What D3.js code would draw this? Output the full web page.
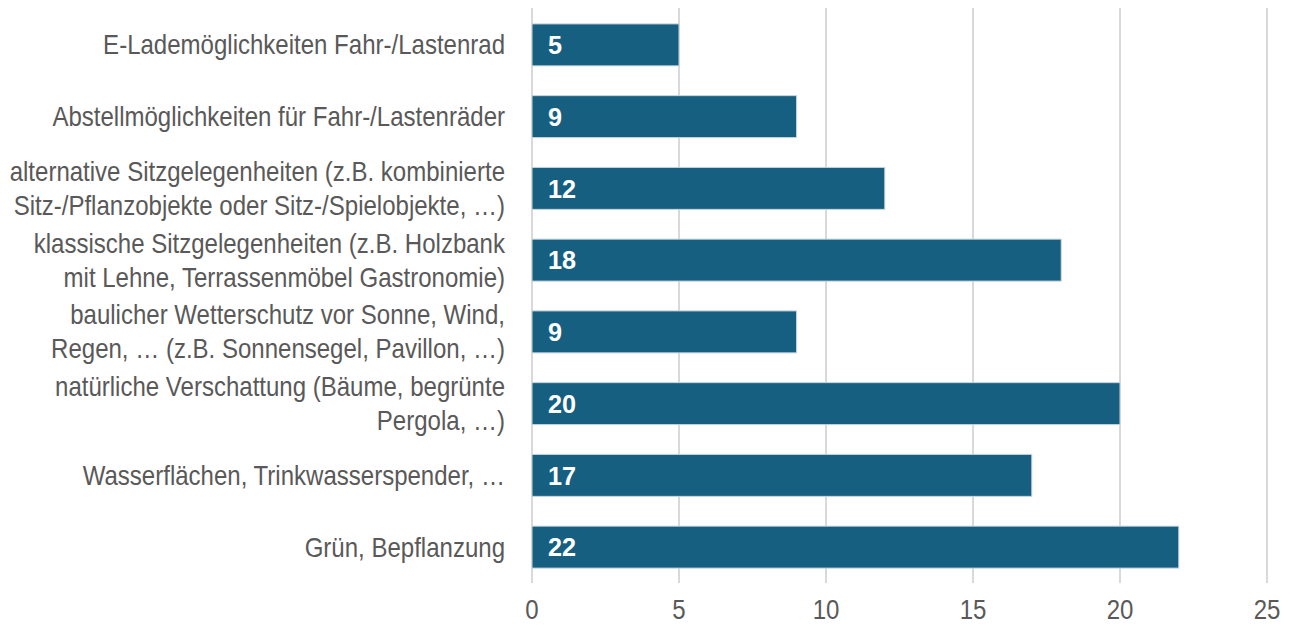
<!DOCTYPE html>
<html>
<head>
<meta charset="utf-8">
<script src="https://cdn.jsdelivr.net/npm/d3@7"></script>
<style>
  body { margin: 0; background: #fff; }
  text { font-family: "Liberation Sans", Arial, sans-serif; }
</style>
</head>
<body>
<svg id="chart" width="1295" height="628"></svg>
<script>
// categories, each one an array of label lines
var categories = [
  ["E-Lademöglichkeiten Fahr-/Lastenrad"],
  ["Abstellmöglichkeiten für Fahr-/Lastenräder"],
  ["alternative Sitzgelegenheiten (z.B. kombinierte", "Sitz-/Pflanzobjekte oder Sitz-/Spielobjekte, …)"],
  ["klassische Sitzgelegenheiten (z.B. Holzbank", "mit Lehne, Terrassenmöbel Gastronomie)"],
  ["baulicher Wetterschutz vor Sonne, Wind,", "Regen, … (z.B. Sonnensegel, Pavillon, …)"],
  ["natürliche Verschattung (Bäume, begrünte", "Pergola, …)"],
  ["Wasserflächen, Trinkwasserspender, …"],
  ["Grün, Bepflanzung"]
];
var values = [5, 9, 12, 18, 9, 20, 17, 22];
var xTicks = [0, 5, 10, 15, 20, 25];

var svg = d3.select("#chart");

// the reference text is a bit narrow, squeeze it horizontally
var squeeze = 0.89;

var x = d3.scaleLinear().domain([0, 25]).range([532, 1267]);
var y = d3.scaleBand()
  .domain(d3.range(categories.length))
  .range([9, 583])
  .paddingInner(0.415)
  .paddingOuter(0.2075);

// grid lines
svg.append("g")
  .selectAll("line")
  .data(xTicks)
  .enter()
  .append("line")
  .attr("x1", function(d){ return x(d); })
  .attr("x2", function(d){ return x(d); })
  .attr("y1", 8)
  .attr("y2", 583)
  .attr("stroke", "#d9d9d9")
  .attr("stroke-width", 2);

// bars
svg.append("g")
  .selectAll("rect")
  .data(values)
  .enter()
  .append("rect")
  .attr("x", x(0))
  .attr("y", function(d, i){ return y(i); })
  .attr("width", function(d){ return x(d) - x(0); })
  .attr("height", y.bandwidth())
  .attr("fill", "#175f80")
  .attr("stroke", "#c9d6de")
  .attr("stroke-width", 1);

// value labels
svg.append("g")
  .selectAll("text")
  .data(values)
  .enter()
  .append("text")
  .attr("transform", function(d, i){
    return "translate(" + (x(0) + 16) + "," + (y(i) + y.bandwidth() / 2) + ") scale(0.97,1)";
  })
  .attr("dy", "0.36em")
  .attr("fill", "#fff")
  .attr("font-size", 26)
  .attr("font-weight", "bold")
  .text(function(d){ return d; });

// category labels
var lineH = 34;
var labels = svg.append("g")
  .selectAll("text")
  .data(categories)
  .enter()
  .append("text")
  .attr("text-anchor", "end")
  .attr("fill", "#595959")
  .attr("font-size", 27)
  .attr("transform", function(d, i){
    return "translate(505," + (y(i) + y.bandwidth() / 2) + ") scale(" + squeeze + ",1)";
  });
labels.each(function(lines){
  var start = -(lines.length - 1) * lineH / 2;
  d3.select(this).selectAll("tspan")
    .data(lines)
    .enter()
    .append("tspan")
    .attr("x", 0)
    .attr("y", function(d, j){ return start + j * lineH; })
    .attr("dy", "0.35em")
    .text(function(d){ return d; });
});

// x axis tick labels
svg.append("g")
  .selectAll("text")
  .data(xTicks)
  .enter()
  .append("text")
  .attr("transform", function(d){ return "translate(" + x(d) + ",610) scale(" + squeeze + ",1)"; })
  .attr("dy", "0.35em")
  .attr("text-anchor", "middle")
  .attr("fill", "#595959")
  .attr("font-size", 27)
  .text(function(d){ return d; });
</script>
</body>
</html>
